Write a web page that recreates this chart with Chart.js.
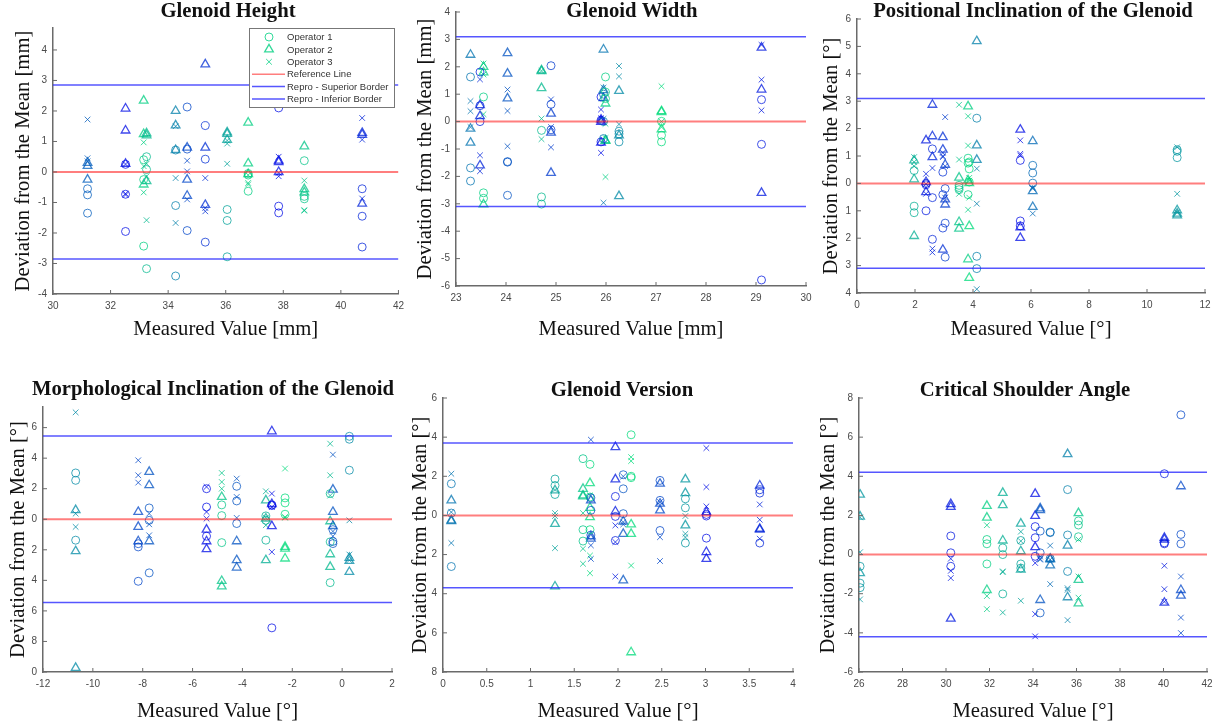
<!DOCTYPE html>
<html>
<head>
<meta charset="utf-8">
<script src="https://cdn.jsdelivr.net/npm/chart.js@4.4.1/dist/chart.umd.min.js"></script>
<style>
  body { margin: 0; background: #fff; width: 1220px; height: 728px; position: relative; overflow: hidden; }
  canvas { position: absolute; }
</style>
</head>
<body>
<canvas id="c1"></canvas>
<canvas id="c2"></canvas>
<canvas id="c3"></canvas>
<canvas id="c4"></canvas>
<canvas id="c5"></canvas>
<canvas id="c6"></canvas>
<script>
// ---- Glenoid Height ----
const heightX = [31.2, 32.52, 33.15, 33.25, 34.26, 34.66, 35.29, 36.05, 36.78, 37.84, 38.73, 40.74];
const heightOp1 = [[-0.55,-0.75,-1.35],[0.25,-0.73,-1.95],[0.4,-2.43,-0.25],[0.5,0.08,-3.17],[-1.1,-3.41,0.72],[2.13,-1.92,0.75],[1.52,0.42,-2.3],[-1.23,-1.59,-2.78],[-0.63,-0.1,-0.05],[2.1,-1.12,-1.34],[0.37,-0.8,-0.88],[-0.55,-1.45,-2.46]];
const heightOp2 = [[0.3,0.2,-0.25],[2.08,1.36,0.27],[2.34,1.24,-0.41],[1.27,1.2,-0.3],[2.0,1.53,0.72],[0.8,-0.25,-0.78],[3.53,0.8,-1.08],[1.3,1.25,1.05],[1.62,0.28,-0.07],[0.37,0.32,0.0],[0.84,-0.56,-0.67],[1.28,1.22,-1.04]];
const heightOp3 = [[1.72,0.45,0.35],[0.26,-0.71,-0.75],[0.97,-0.67,0.19],[-0.14,-1.58,0.27],[-0.2,-1.67,1.5],[0.37,0.02,-0.9],[-0.2,-1.18,-1.29],[1.03,0.93,0.27],[-0.36,-0.41,-0.1],[0.5,-0.03,-0.14],[-0.28,-1.25,-1.27],[1.77,1.06,-0.87]];
const heightShade = [0.4,0.05,0.9,0.8,0.55,0.3,0.2,0.7,0.9,0.05,0.85,0.15];
const heightLimit = 2.85;
const heightXAxis = [30, 42, 2];
const heightYAxis = [-4, 4.72, 1];

// ---- Glenoid Width ----
const widthX = [23.29, 23.48, 23.55, 24.03, 24.71, 24.9, 25.9, 25.95, 25.99, 26.26, 27.11, 29.11];
const widthOp1 = [[1.63,-1.69,-2.17],[1.81,0.0,0.58],[0.9,-2.6,-2.8],[-1.46,-1.48,-2.69],[-0.32,-2.75,-3.01],[2.04,0.63,-0.3],[0.9,0.05,-0.74],[-0.62,1.0,0.0],[1.63,1.08,0.84],[-0.35,-0.74,-0.45],[0.01,-0.5,-0.74],[0.8,-0.83,-5.78]];
const widthOp2 = [[2.44,-0.26,-0.77],[0.6,0.2,-1.6],[2.0,1.8,-3.02],[2.5,1.75,0.85],[1.87,1.84,1.22],[0.29,-0.4,-1.87],[0.07,-0.01,-0.77],[2.63,1.15,0.86],[0.66,-0.68,-0.7],[1.12,-0.5,-2.72],[0.38,0.35,-0.28],[2.7,1.17,-2.6]];
const widthOp3 = [[0.75,0.38,-0.2],[1.54,-1.23,-1.81],[2.12,1.72,0.27],[1.17,0.39,-0.9],[0.11,-0.64,1.85],[0.81,-0.2,-0.94],[0.12,0.44,-1.14],[1.24,-2.96,0.1],[-2.02,-0.6,-0.08],[2.03,1.65,-0.1],[1.29,-0.2,0.0],[2.8,1.53,0.41]];
const widthShade = [0.5,0.15,0.9,0.35,0.8,0.25,0.05,0.5,0.9,0.6,0.95,0.1];
const widthLimit = 3.1;
const widthXAxis = [23, 30, 1];
const widthYAxis = [-6, 4, 1];

// ---- Positional Inclination ----
const posX = [1.97, 2.38, 2.6, 2.96, 3.04, 3.52, 3.83, 3.87, 4.13, 5.63, 6.06, 11.04];
const posOp1 = [[0.47,-0.83,-1.07],[0.0,-1.0,-0.05],[1.26,-0.52,-2.04],[0.41,-0.41,-1.63],[-0.19,-1.45,-2.69],[-0.07,-0.23,-0.15],[0.92,0.74,-0.41],[0.53,0.78,0.05],[2.38,-2.66,-3.11],[0.84,-1.37,-1.55],[0.66,0.38,0.01],[1.23,1.17,0.94]];
const posOp2 = [[0.84,0.15,-1.92],[1.57,0.05,-0.32],[2.87,1.72,0.96],[1.69,1.23,-2.42],[0.68,-0.58,-0.77],[0.21,-1.41,-1.65],[2.81,0.11,-2.77],[0.01,-1.56,-3.45],[5.19,1.39,0.86],[1.96,-1.6,-1.99],[1.54,-0.28,-0.86],[-0.98,-1.1,-1.17]];
const posOp3 = [[0.96,0.63,0.78],[0.35,-0.02,-0.38],[0.56,-2.38,-2.52],[1.12,0.96,1.0],[2.42,-0.52,0.63],[2.87,0.87,-0.38],[2.45,1.38,-0.96],[0.1,-0.52,0.2],[0.54,-0.74,-3.86],[1.57,1.08,1.02],[-0.19,-1.1,-0.15],[1.32,-0.38,-1.06]];
const posShade = [0.75,0.1,0.15,0.2,0.25,0.85,0.9,0.95,0.55,0.05,0.45,0.65];
const posLimit = 3.1;
const posXAxis = [0, 12, 2];
const posYAxis = [-4, 6, 1];

// ---- Morphological Inclination ----
const morphX = [-10.69, -8.18, -7.74, -5.44, -4.83, -4.23, -3.06, -2.82, -2.29, -0.48, -0.37, 0.29];
const morphOp1 = [[3.03,2.55,-1.37],[-1.81,-4.06,-1.6],[0.74,-0.07,-3.51],[2.0,0.8,-1.11],[0.94,0.24,-1.53],[2.16,1.2,-0.28],[0.22,-0.07,-1.37],[0.94,-7.11,0.9],[1.4,1.07,0.33],[1.68,-1.48,-4.15],[-0.68,-1.59,-1.45],[5.43,5.24,3.21]];
const morphOp2 = [[0.6,-2.09,-9.73],[0.48,-0.5,-1.44],[3.1,2.23,-1.44],[-0.68,-1.44,-1.96],[1.46,-4.04,-4.39],[-1.44,-2.68,-3.16],[1.24,-2.68,0.05],[5.76,1.0,-0.45],[-1.81,-1.92,-2.57],[-0.13,-2.29,-3.12],[1.94,0.48,-0.44],[-2.53,-2.73,-3.45]];
const morphOp3 = [[7.0,0.37,-0.5],[3.86,2.88,2.4],[0.37,-0.33,-1.05],[2.12,0.48,0.04],[3.03,2.44,2.0],[2.66,1.46,0.09],[1.83,-0.39,0.1],[1.68,0.8,-2.14],[3.32,0.15,0.1],[4.95,2.88,1.55],[4.23,-1.11,-0.8],[-0.07,-2.31,-2.68]];
const morphShade = [0.6,0.3,0.35,0.05,0.85,0.35,0.75,0.05,0.95,0.8,0.35,0.6];
const morphLimit = 5.45;
const morphXAxis = [-12, 2, 2];
const morphYAxis = [-10, 7.35, 2];

// ---- Glenoid Version ----
const verX = [0.095, 1.28, 1.6, 1.68, 1.69, 1.97, 2.06, 2.15, 2.48, 2.77, 3.01, 3.62];
const verOp1 = [[1.62,0.12,-2.61],[1.86,1.53,1.07],[2.9,-0.73,-1.31],[2.61,0.94,-0.73],[0.26,0.9,-1.0],[0.97,-0.05,-1.28],[2.08,1.36,0.09],[4.12,1.93,2.0],[1.79,0.77,-0.77],[0.85,0.39,-1.41],[0.05,-0.03,-1.16],[1.31,1.14,-1.41]];
const verOp2 = [[0.77,-0.29,-0.25],[1.28,-0.43,-3.63],[1.36,1.02,0.97],[1.65,0.39,-0.09],[0.77,-1.07,-1.19],[3.49,1.84,0.2],[-0.31,-0.94,-3.32],[-0.46,-0.94,-6.99],[1.62,0.6,0.26],[1.84,1.14,-0.51],[0.17,-1.87,-2.22],[1.53,-0.68,-0.73]];
const verOp3 = [[2.13,0.17,-1.41],[0.12,-0.03,-1.67],[0.12,-1.7,-2.47],[1.02,-2.05,-2.95],[3.87,-1.53,-2.22],[-0.51,-1.36,-3.12],[1.99,-0.34,-0.46],[2.98,2.78,-2.56],[0.68,-1.11,-2.33],[-0.03,-0.94,-1.11],[3.44,1.45,0.46],[0.56,-0.22,-1.19]];
const verShade = [0.5,0.7,0.85,0.95,0.3,0.1,0.35,0.95,0.3,0.65,0.05,0.15];
const verLimit = 3.7;
const verXAxis = [0, 4, 0.5];
const verYAxis = [-8, 6, 2];

// ---- Critical Shoulder Angle ----
const csaX = [26.05, 30.22, 31.88, 32.61, 33.44, 34.1, 34.33, 34.79, 35.59, 36.09, 40.04, 40.8];
const csaOp1 = [[-0.6,-1.46,-1.69],[0.95,0.09,-0.6],[0.77,0.55,-0.48],[0.34,0.0,-2.01],[0.72,-0.48,-0.69],[1.43,0.86,-0.09],[1.2,0.09,-2.98],[1.15,1.12,-0.2],[3.32,1.0,-0.86],[1.72,1.51,0.91],[4.13,0.55,0.6],[7.14,1.03,0.55]];
const csaOp2 = [[3.06,1.94,-0.95],[2.58,2.44,-3.27],[2.49,1.89,-1.81],[3.15,2.53,0.72],[1.58,0.17,-0.77],[3.1,1.98,0.38],[2.36,2.27,-2.32],[-0.21,-0.55,-0.25],[5.13,0.46,-2.18],[2.12,-1.29,-2.49],[0.86,0.77,-2.46],[3.49,-1.81,-2.1]];
const csaOp3 = [[0.12,-2.29,1.9],[-0.21,-0.83,-1.2],[1.5,-2.12,-2.79],[-0.86,-0.9,-2.96],[1.17,0.69,-2.36],[-0.43,-3.04,-4.18],[-0.22,-0.26,-0.1],[0.46,-0.26,-1.51],[-1.72,-1.8,-3.35],[0.77,-1.12,-2.2],[-0.57,-1.77,-2.41],[-1.12,-3.22,-4.01]];
const csaShade = [0.65,0.1,0.9,0.75,0.7,0.05,0.35,0.45,0.55,0.85,0.1,0.3];
const csaLimit = 4.2;
const csaXAxis = [26, 42, 2];
const csaYAxis = [-6, 8, 2];

const legendLabels = ["Operator 1", "Operator 2", "Operator 3", "Reference Line", "Repro - Superior Border", "Repro - Inferior Border"];

// page layout: box = canvas rect, plot = [left, right, top, bottom]
const panels = [
  { id: "c1", title: "Glenoid Height", unit: "[mm]", xs: heightX, ops: [heightOp1, heightOp2, heightOp3], shade: heightShade, limit: heightLimit, xAxis: heightXAxis, yAxis: heightYAxis,
    box: [0, 0, 410, 345], plot: [53, 403, 28, 294], yTitleX: 23, xTitleY: 330, titlePos: [228, 12], legend: true },
  { id: "c2", title: "Glenoid Width", unit: "[mm]", xs: widthX, ops: [widthOp1, widthOp2, widthOp3], shade: widthShade, limit: widthLimit, xAxis: widthXAxis, yAxis: widthYAxis,
    box: [400, 0, 420, 345], plot: [456, 806, 12, 286], yTitleX: 425, xTitleY: 330, titlePos: [632, 12] },
  { id: "c3", title: "Positional Inclination of the Glenoid", unit: "[°]", xs: posX, ops: [posOp1, posOp2, posOp3], shade: posShade, limit: posLimit, xAxis: posXAxis, yAxis: posYAxis,
    box: [810, 0, 410, 345], plot: [857, 1205, 19, 293], yTitleX: 831, xTitleY: 330, titlePos: [1033, 12], clipMinus: true },
  { id: "c4", title: "Morphological Inclination of the Glenoid", unit: "[°]", xs: morphX, ops: [morphOp1, morphOp2, morphOp3], shade: morphShade, limit: morphLimit, xAxis: morphXAxis, yAxis: morphYAxis,
    box: [0, 365, 410, 363], plot: [43, 392, 407, 672], yTitleX: 18, xTitleY: 712, titlePos: [213, 390], clipMinus: true },
  { id: "c5", title: "Glenoid Version", unit: "[°]", xs: verX, ops: [verOp1, verOp2, verOp3], shade: verShade, limit: verLimit, xAxis: verXAxis, yAxis: verYAxis,
    box: [400, 365, 410, 363], plot: [443, 793, 398, 672], yTitleX: 420, xTitleY: 712, titlePos: [622, 391], clipMinus: true },
  { id: "c6", title: "Critical Shoulder Angle", unit: "[°]", xs: csaX, ops: [csaOp1, csaOp2, csaOp3], shade: csaShade, limit: csaLimit, xAxis: csaXAxis, yAxis: csaYAxis,
    box: [810, 365, 410, 363], plot: [859, 1207, 398, 672], yTitleX: 828, xTitleY: 712, titlePos: [1025, 391] }
];

const axisColor = "#6a6a6a";
const tickColor = "#4a4a4a";
const serif = "'Liberation Serif', 'Times New Roman', serif";
const sans = "'Liberation Sans', Arial, sans-serif";
const markers = [
  { style: "circle", radius: 4, width: 1 },
  { style: "triangle", radius: 5, width: 1.3 },
  { style: "crossRot", radius: 4, width: 1 }
];
const refColor = "rgba(255, 40, 40, 0.6)";
const borderLineColor = "rgba(30, 30, 255, 0.75)";

// MATLAB winter colormap, blue -> green
function winter(t, a) {
  return "rgba(0," + Math.round(230 * t) + "," + Math.round(235 * (1 - t / 2)) + "," + a + ")";
}

function points(xs, groups) {
  let out = [];
  xs.forEach((x, i) => groups[i].forEach(v => out.push({ x: x, y: v })));
  return out;
}

function colours(shade, groups) {
  let out = [];
  shade.forEach((t, i) => groups[i].forEach(() => out.push(winter(t, 0.75))));
  return out;
}

function tickText(v) {
  return String(Math.round(v * 100) / 100);
}

const panelDecor = {
  id: "panelDecor",
  afterDraw(chart) {
    const p = chart.options.plugins.panelDecor;
    const ctx = chart.ctx;
    const a = chart.chartArea;
    const sx = chart.scales.x, sy = chart.scales.y;
    ctx.save();
    // inward tick marks
    ctx.strokeStyle = axisColor;
    ctx.lineWidth = 1;
    sx.ticks.forEach(t => {
      let px = sx.getPixelForValue(t.value);
      ctx.beginPath(); ctx.moveTo(px, a.bottom); ctx.lineTo(px, a.bottom - 4); ctx.stroke();
    });
    sy.ticks.forEach(t => {
      let py = sy.getPixelForValue(t.value);
      ctx.beginPath(); ctx.moveTo(a.left, py); ctx.lineTo(a.left + 4, py); ctx.stroke();
    });
    // title
    ctx.fillStyle = "#111";
    ctx.font = "bold 20.7px " + serif;
    ctx.textAlign = "center";
    ctx.textBaseline = "middle";
    ctx.fillText(p.title, p.tx, p.ty);
    // legend (first panel only)
    if (p.legend) {
      let lx = 249, ly = 28, lw = 145, lh = 79;
      ctx.fillStyle = "#fff";
      ctx.fillRect(lx, ly, lw, lh);
      ctx.strokeStyle = "#777";
      ctx.lineWidth = 1;
      ctx.strokeRect(lx + 0.5, ly + 0.5, lw, lh);
      ctx.font = "9.5px " + sans;
      ctx.textAlign = "left";
      legendLabels.forEach((lab, i) => {
        let y = ly + 9 + i * 12.4;
        if (i < 3) {
          ctx.strokeStyle = winter(0.9, 0.8);
          ctx.fillStyle = "rgba(0,0,0,0)";
          ctx.lineWidth = markers[i].width;
          Chart.helpers.drawPoint(ctx, { pointStyle: markers[i].style, radius: markers[i].radius, rotation: 0, borderWidth: markers[i].width }, lx + 20, y);
        } else {
          ctx.strokeStyle = i == 3 ? refColor : borderLineColor;
          ctx.lineWidth = 1.5;
          ctx.beginPath(); ctx.moveTo(lx + 3, y); ctx.lineTo(lx + 36, y); ctx.stroke();
        }
        ctx.fillStyle = "#333";
        ctx.fillText(lab, lx + 38, y + 0.5);
      });
    }
    ctx.restore();
  }
};

panels.forEach(p => {
  const cv = document.getElementById(p.id);
  const [bl, bt, bw, bh] = p.box;
  cv.width = bw; cv.height = bh;
  cv.style.left = bl + "px"; cv.style.top = bt + "px";
  cv.style.width = bw + "px"; cv.style.height = bh + "px";

  const [xmin, xmax, xstep] = p.xAxis;
  const [ymin, ymax, ystep] = p.yAxis;

  let datasets = [
    { label: "Reference Line", type: "line", data: [{ x: xmin, y: 0 }, { x: xmax, y: 0 }], borderColor: refColor, borderWidth: 2, pointRadius: 0, showLine: true },
    { label: "Repro - Superior Border", type: "line", data: [{ x: xmin, y: p.limit }, { x: xmax, y: p.limit }], borderColor: borderLineColor, borderWidth: 1.5, pointRadius: 0, showLine: true },
    { label: "Repro - Inferior Border", type: "line", data: [{ x: xmin, y: -p.limit }, { x: xmax, y: -p.limit }], borderColor: borderLineColor, borderWidth: 1.5, pointRadius: 0, showLine: true }
  ];
  p.ops.forEach((op, k) => {
    datasets.push({
      label: "Operator " + (k + 1),
      data: points(p.xs, op),
      pointStyle: markers[k].style,
      pointRadius: markers[k].radius,
      pointBorderWidth: markers[k].width,
      pointBorderColor: colours(p.shade, op),
      pointBackgroundColor: "rgba(0,0,0,0)"
    });
  });

  new Chart(cv, {
    type: "scatter",
    data: { datasets: datasets },
    options: {
      responsive: false,
      animation: false,
      devicePixelRatio: 1,
      layout: { padding: { top: p.plot[2] - bt, right: bl + bw - p.plot[1], left: 0, bottom: 0 } },
      plugins: {
        legend: { display: false },
        tooltip: { enabled: false },
        panelDecor: { title: p.title, tx: p.titlePos[0] - bl, ty: p.titlePos[1] - bt, legend: !!p.legend }
      },
      scales: {
        x: {
          type: "linear", min: xmin, max: xmax,
          afterFit: s => { s.height = bt + bh - p.plot[3]; },
          grid: { color: "rgba(0,0,0,0)", drawTicks: false },
          border: { display: true, color: axisColor, width: 1.5 },
          ticks: { stepSize: xstep, autoSkip: false, maxRotation: 0, includeBounds: false, padding: 6, color: tickColor, font: { family: sans, size: 10 }, callback: tickText },
          title: { display: true, text: "Measured Value " + p.unit, color: "#111", font: { family: serif, size: 20.7, lineHeight: 1.2 }, padding: { top: 0, bottom: bt + bh - p.xTitleY - 12 } }
        },
        y: {
          type: "linear", min: ymin, max: ymax,
          afterFit: s => { s.width = p.plot[0] - bl; },
          grid: { color: "rgba(0,0,0,0)", drawTicks: false },
          border: { display: true, color: axisColor, width: 1.5 },
          ticks: { stepSize: ystep, autoSkip: false, includeBounds: false, padding: 6, color: tickColor, font: { family: sans, size: 10 },
            callback: v => p.clipMinus ? tickText(v).slice(-1) : tickText(v) },
          title: { display: true, text: "Deviation from the Mean " + p.unit, color: "#111", font: { family: serif, size: 20.7, lineHeight: 1.2 }, padding: { top: p.yTitleX - bl - 12, bottom: 0 } }
        }
      }
    },
    plugins: [panelDecor]
  });
});
</script>
</body>
</html>
